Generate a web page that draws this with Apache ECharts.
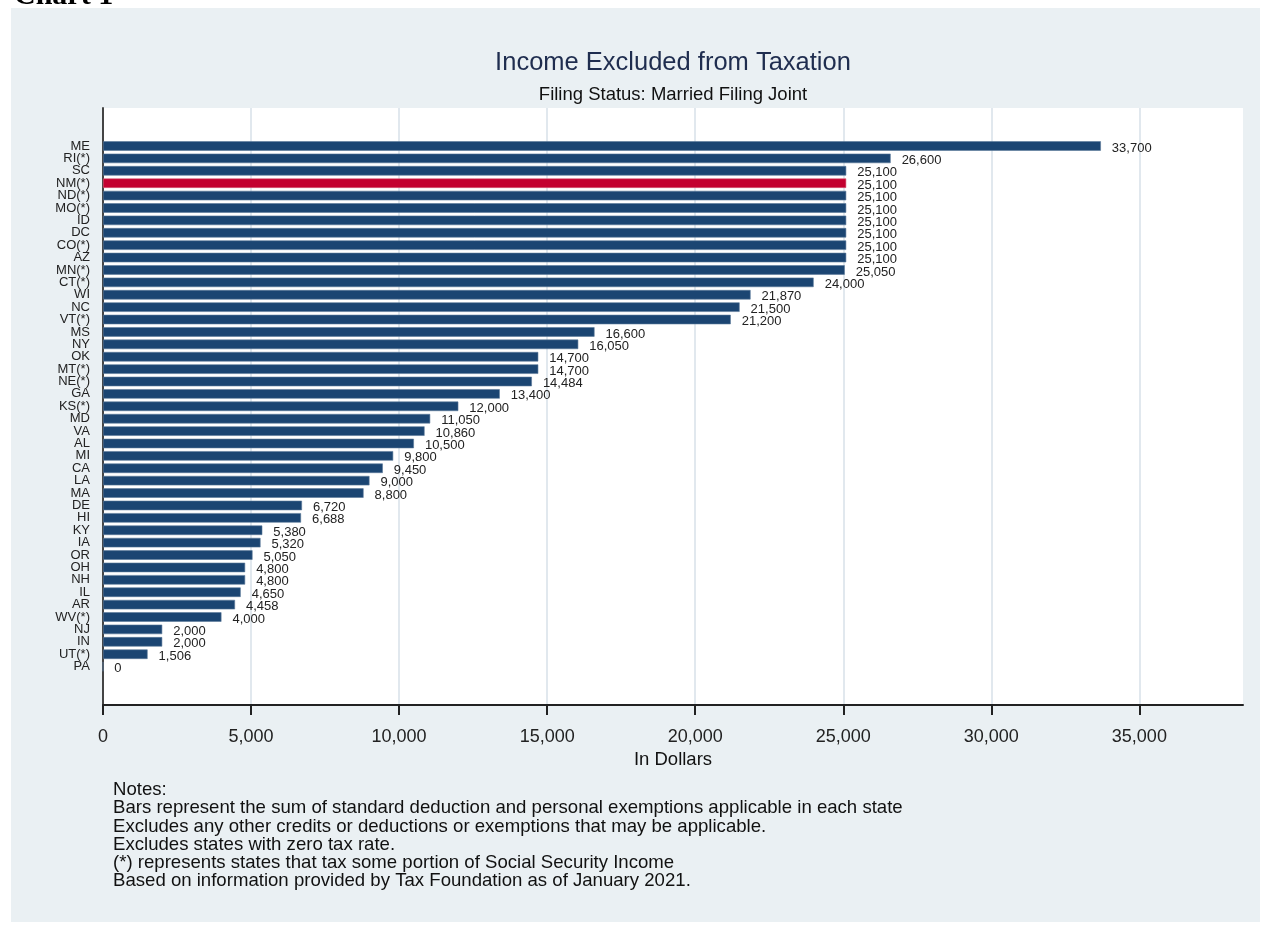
<!DOCTYPE html>
<html>
<head>
<meta charset="utf-8">
<script src="https://cdn.jsdelivr.net/npm/echarts@6/dist/echarts.min.js"></script>
<style>
  html, body { margin: 0; padding: 0; background: #fff; }
  #chart { width: 1272px; height: 926px; }
</style>
</head>
<body>
<div id="chart"></div>
<script>
// states, top to bottom
const states = ['ME', 'RI(*)', 'SC', 'NM(*)', 'ND(*)', 'MO(*)', 'ID', 'DC', 'CO(*)', 'AZ',
  'MN(*)', 'CT(*)', 'WI', 'NC', 'VT(*)', 'MS', 'NY', 'OK', 'MT(*)', 'NE(*)',
  'GA', 'KS(*)', 'MD', 'VA', 'AL', 'MI', 'CA', 'LA', 'MA', 'DE',
  'HI', 'KY', 'IA', 'OR', 'OH', 'NH', 'IL', 'AR', 'WV(*)', 'NJ',
  'IN', 'UT(*)', 'PA'];
const excluded = [33700, 26600, 25100, 25100, 25100, 25100, 25100, 25100, 25100, 25100,
  25050, 24000, 21870, 21500, 21200, 16600, 16050, 14700, 14700, 14484,
  13400, 12000, 11050, 10860, 10500, 9800, 9450, 9000, 8800, 6720,
  6688, 5380, 5320, 5050, 4800, 4800, 4650, 4458, 4000, 2000,
  2000, 1506, 0];
const highlighted = 'NM(*)';
const xTicks = [0, 5000, 10000, 15000, 20000, 25000, 30000, 35000];
const notes = [
  'Notes:',
  'Bars represent the sum of standard deduction and personal exemptions applicable in each state',
  'Excludes any other credits or deductions or exemptions that may be applicable.',
  'Excludes states with zero tax rate.',
  '(*) represents states that tax some portion of Social Security Income',
  'Based on information provided by Tax Foundation as of January 2021.'
];

const FONT = '"Liberation Sans", Arial, sans-serif';
const fmt = v => Number(v).toLocaleString('en-US');

const chart = echarts.init(document.getElementById('chart'));
chart.setOption({
  backgroundColor: '#ffffff',
  animation: false,
  textStyle: { fontFamily: FONT },
  title: [
    {
      text: 'Income Excluded from Taxation',
      left: 668, top: 45, textAlign: 'center',
      textStyle: { fontSize: 25.5, fontWeight: 'normal', color: '#1f2d4f', fontFamily: FONT }
    },
    {
      text: 'Filing Status: Married Filing Joint',
      left: 668, top: 80, textAlign: 'center',
      textStyle: { fontSize: 18.5, fontWeight: 'normal', color: '#111', fontFamily: FONT }
    }
  ],
  graphic: [
    {
      type: 'rect', z: -10, silent: true,
      shape: { x: 11, y: 8, width: 1249, height: 914 },
      style: { fill: '#eaf0f3' }
    },
    {
      type: 'text', silent: true, z: 1,
      style: {
        text: 'Chart 1', x: 14, y: -19, fontSize: 30, fontWeight: 'bold',
        fontFamily: '"Liberation Serif", "Times New Roman", serif',
        fill: '#000'
      }
    },
    {
      type: 'text', silent: true, z: 1,
      style: {
        text: notes.join('\n'), x: 113, y: 781, fontSize: 18.6, lineHeight: 18.2,
        fontFamily: FONT, fill: '#111'
      }
    }
  ],
  grid: [
    { left: 103, top: 108, width: 1140, height: 597, show: true, backgroundColor: '#ffffff', borderWidth: 0 },
    { left: 103, top: 139.8, width: 1140, height: 533 }
  ],
  xAxis: [
    {
      gridIndex: 0, type: 'value', min: 0, max: 38500, interval: 5000,
      name: 'In Dollars', nameLocation: 'middle', nameGap: 42,
      nameTextStyle: { fontSize: 18.5, color: '#111', fontFamily: FONT },
      axisLine: { show: true, lineStyle: { color: '#222', width: 2 } },
      axisTick: { show: true, length: 10, lineStyle: { color: '#222', width: 2 }, customValues: xTicks },
      axisLabel: { fontSize: 18, color: '#222', margin: 23, formatter: fmt, customValues: xTicks },
      splitLine: { show: true, lineStyle: { color: '#e1e8ee', width: 2 } }
    },
    {
      gridIndex: 1, type: 'value', min: 0, max: 38500, show: false,
      splitLine: { show: false }
    }
  ],
  yAxis: [
    {
      gridIndex: 0, type: 'value', min: 0, max: 1,
      axisLine: { show: true, onZero: false, lineStyle: { color: '#444', width: 2 } },
      axisTick: { show: false }, axisLabel: { show: false }, splitLine: { show: false }
    },
    {
      gridIndex: 1, type: 'category', data: states, inverse: true,
      axisLine: { show: false }, axisTick: { show: false },
      axisLabel: { fontSize: 13, color: '#222', margin: 13, interval: 0, lineHeight: 13 }
    }
  ],
  series: [
    {
      type: 'bar', xAxisIndex: 1, yAxisIndex: 1,
      barWidth: 9.5,
      data: excluded.map((v, i) => states[i] === highlighted
        ? { value: v, itemStyle: { color: '#c3002f', borderColor: '#d9607a' } }
        : v),
      itemStyle: { color: '#1b4572', borderColor: '#5a7899', borderWidth: 0.6 },
      label: {
        show: true, position: 'right', distance: 11, offset: [0, 2],
        fontSize: 13, color: '#222', fontFamily: FONT,
        formatter: p => fmt(p.value)
      }
    }
  ]
});
</script>
</body>
</html>
